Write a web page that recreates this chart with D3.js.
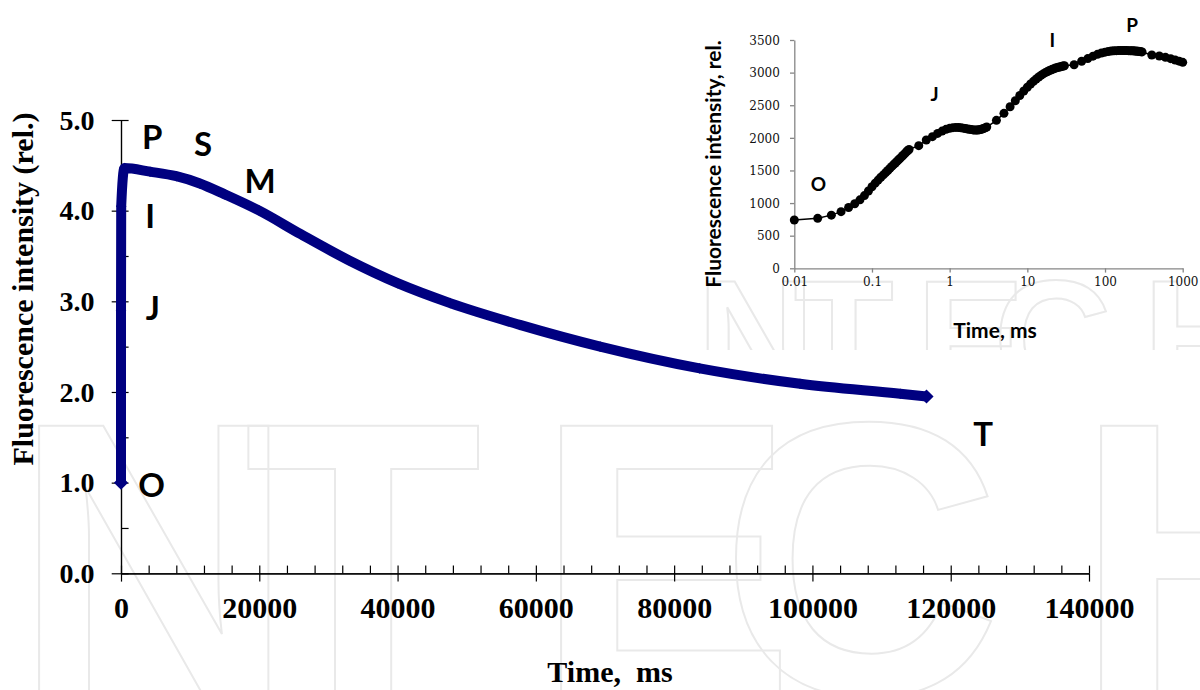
<!DOCTYPE html>
<html>
<head>
<meta charset="utf-8">
<script src="https://cdn.jsdelivr.net/npm/d3@7"></script>
<style>
  body { margin: 0; background: #fff; }
  svg { display: block; }
</style>
</head>
<body>
<svg width="1200" height="690"></svg>
<script>
// whole induction curve (O-J-I-P-S-M-T), time in ms, fluorescence relative to O
const mainTime = [0, 2, 30, 500, 4200, 8000, 11400, 15000, 20000, 26000, 33000, 40000,
                  47600, 57700, 69300, 83700, 98200, 112700, 116500];
const mainFluo = [1.00, 2.90, 4.05, 4.47, 4.43, 4.38, 4.30, 4.18, 4.00, 3.74, 3.45, 3.20,
                  2.98, 2.74, 2.50, 2.26, 2.09, 1.98, 1.95];
const mainXTicks = [0, 20000, 40000, 60000, 80000, 100000, 120000, 140000];
const mainXMinor = d3.range(0, 140001, 4000);
const mainYTicks = [0, 1, 2, 3, 4, 5];
const mainYMinor = d3.range(0, 5.01, 0.5);
const mainLetters = ["O", "J", "I", "P", "S", "M", "T"];

// fast rise (OJIP) on log time axis, ms
const ojipTime = [0.01, 0.02, 0.03, 0.04, 0.05, 0.06, 0.07, 0.08, 0.09, 0.10,
  0.11, 0.12, 0.13, 0.14, 0.15, 0.16, 0.17, 0.18, 0.19, 0.20,
  0.21, 0.22, 0.23, 0.24, 0.25, 0.26, 0.27, 0.28, 0.29, 0.30,
  0.4, 0.5, 0.6, 0.7, 0.8, 0.9, 1.0, 1.1, 1.2, 1.3, 1.4, 1.5, 1.6, 1.7, 1.8, 1.9,
  2.0, 2.1, 2.2, 2.3, 2.4, 2.5, 2.6, 2.7, 2.8, 2.9, 3.0,
  4, 5, 6, 7, 8, 9, 10, 11, 12, 13, 14, 15, 16, 17, 18, 19, 20,
  21, 22, 23, 24, 25, 26, 27, 28, 29, 30,
  40, 50, 60, 70, 80, 90, 100, 110, 120, 130, 140, 150, 160, 170, 180, 190, 200,
  210, 220, 230, 240, 250, 260, 270, 280, 290, 300,
  400, 500, 600, 700, 800, 900, 1000];
const ojipFluo = [740, 766, 815, 868, 932, 990, 1050, 1115, 1185, 1250,
  1305, 1352, 1395, 1432, 1467, 1500, 1532, 1562, 1590, 1615,
  1640, 1664, 1686, 1708, 1730, 1750, 1770, 1788, 1806, 1822,
  1880, 1967, 2018, 2068, 2104, 2130, 2146, 2156, 2160, 2158, 2154, 2148, 2142, 2136, 2131, 2126,
  2122, 2120, 2120, 2121, 2124, 2128, 2134, 2141, 2148, 2156, 2166,
  2268, 2376, 2477, 2569, 2650, 2718, 2775, 2825, 2866, 2902, 2933, 2958, 2980, 2999, 3014, 3029, 3040,
  3050, 3060, 3069, 3076, 3081, 3086, 3091, 3096, 3101, 3106,
  3120, 3175, 3215, 3252, 3280, 3300, 3314, 3324, 3330, 3334, 3337, 3338, 3339, 3339, 3339, 3338, 3337,
  3336, 3335, 3334, 3332, 3330, 3328, 3326, 3323, 3320, 3317,
  3270, 3255, 3234, 3214, 3193, 3176, 3158];
const ojipXTicks = [0.01, 0.1, 1, 10, 100, 1000];
const ojipYTicks = [0, 500, 1000, 1500, 2000, 2500, 3000, 3500];
const ojipLetters = ["O", "J", "I", "P"];

const svg = d3.select('svg');
const serif = '"Liberation Serif", "Times New Roman", serif';
const sans = 'Lato, "Open Sans", sans-serif';

// faint publisher watermark behind the charts
const wmFont = '"Liberation Sans", Arial, sans-serif';
const wm = svg.append('g')
    .attr('fill', 'none')
    .attr('stroke', '#e9e9e9')
    .attr('stroke-width', 2);
wm.append('text')
    .attr('x', '13 244 535 720 1075')
    .attr('y', 694)
    .style('font-family', wmFont).style('font-weight', 'bold').style('font-size', '390px')
    .text('NTECH');
svg.append('clipPath').attr('id', 'wmclip')
    .append('rect').attr('x', 690).attr('y', 268).attr('width', 510).attr('height', 82);
wm.append('g').attr('clip-path', 'url(#wmclip)')
  .append('g').attr('transform', 'translate(691.2,102.7) scale(0.42)')
  .append('text')
    .attr('x', '13 244 535 720 1075')
    .attr('y', 694)
    .attr('stroke-width', 2 / 0.42)
    .style('font-family', wmFont).style('font-weight', 'bold').style('font-size', '390px')
    .text('NTECH');

// ---------- main chart ----------
const x = d3.scaleLinear().domain([0, 140000]).range([121, 1089]);
const y = d3.scaleLinear().domain([0, 5]).range([573.3, 120]);

const gx = svg.append('g').attr('transform', 'translate(0,573.3)');
gx.call(d3.axisBottom(x).tickValues(mainXMinor).tickSize(-7.7).tickSizeOuter(0).tickFormat(''));
gx.append('g').call(d3.axisBottom(x).tickValues(mainXTicks).tickSize(8.3).tickSizeOuter(0)
    .tickFormat(d3.format('d')));
gx.selectAll('path.domain, line').attr('stroke', '#000').attr('stroke-width', 1.2);
gx.selectAll('text')
    .attr('y', 44.7).attr('dy', null)
    .attr('fill', '#000')
    .style('font-family', serif).style('font-weight', 'bold').style('font-size', '30px');

const gy = svg.append('g').attr('transform', 'translate(121,0)');
gy.call(d3.axisLeft(y).tickValues(mainYMinor).tickSize(-7.6).tickSizeOuter(0).tickFormat(''));
gy.append('g').call(d3.axisLeft(y).tickValues(mainYTicks).tickSize(9.3).tickSizeOuter(0)
    .tickFormat(d3.format('.1f')));
gy.selectAll('path.domain, line').attr('stroke', '#000').attr('stroke-width', 1.2);
gy.selectAll('text')
    .attr('x', -26.5).attr('dy', '0.33em')
    .attr('fill', '#000')
    .style('font-family', serif).style('font-weight', 'bold').style('font-size', '28px');

svg.append('text')
    .attr('transform', 'translate(33,289) rotate(-90)')
    .attr('text-anchor', 'middle')
    .style('font-family', serif).style('font-weight', 'bold').style('font-size', '30px')
    .text('Fluorescence intensity (rel.)');
svg.append('text')
    .attr('x', 610).attr('y', 682)
    .attr('text-anchor', 'middle')
    .attr('xml:space', 'preserve')
    .style('white-space', 'pre')
    .style('font-family', serif).style('font-weight', 'bold').style('font-size', '30px')
    .text('Time,  ms');

const mainPts = mainTime.map((t, i) => [t, mainFluo[i]]);
const navy = '#000080';
svg.append('path')
    .datum(mainPts)
    .attr('fill', 'none')
    .attr('stroke', navy)
    .attr('stroke-width', 10)
    .attr('stroke-linejoin', 'miter')
    .attr('d', d3.line().x(d => x(d[0])).y(d => y(d[1])).curve(d3.curveMonotoneX));
const lastMain = mainPts.length - 1;
svg.append('g').selectAll('path').data(mainPts).enter().append('path')
    .attr('d', (d, i) => d3.symbol().type(d3.symbolSquare)
      .size(i === 0 || i === lastMain ? 100 : 56)())
    .attr('transform', d => `translate(${x(d[0])},${y(d[1])}) rotate(45)`)
    .attr('fill', navy);

// phase letters, placed in data units of the main chart
const mainLetterPos = {
  O: [4440, 0.97], J: [4620, 2.92], I: [4200, 3.94], P: [4530, 4.81],
  S: [11870, 4.73], M: [20120, 4.33], T: [124700, 1.53]
};
svg.append('g').selectAll('text').data(mainLetters).enter().append('text')
    .attr('x', d => x(mainLetterPos[d][0]))
    .attr('y', d => y(mainLetterPos[d][1]))
    .attr('dy', '0.36em')
    .attr('text-anchor', 'middle')
    .style('font-family', sans).style('font-weight', 'bold').style('font-size', '33px')
    .text(d => d);

// ---------- inset (log time) ----------
const ix = d3.scaleLog().domain([0.01, 1000]).range([794.3, 1182.7]);
const iy = d3.scaleLinear().domain([0, 3500]).range([268.3, 40]);
const axisGrey = '#868686';

const igx = svg.append('g').attr('transform', 'translate(0,268.3)')
    .call(d3.axisBottom(ix).tickValues(ojipXTicks).tickSize(4.3).tickSizeOuter(0)
      .tickFormat(d => d < 1 ? String(d) : d3.format('d')(d)));
igx.selectAll('path.domain, line').attr('stroke', axisGrey).attr('stroke-width', 1.3);
igx.selectAll('text').attr('y', 17.5).attr('dy', null).attr('fill', '#111')
    .style('font-family', '"DejaVu Serif", serif').style('font-size', '12px');

const igy = svg.append('g').attr('transform', 'translate(794.3,0)')
    .call(d3.axisLeft(iy).tickValues(ojipYTicks).tickSize(4.3).tickSizeOuter(0)
      .tickFormat(d3.format('d')));
igy.selectAll('path.domain, line').attr('stroke', axisGrey).attr('stroke-width', 1.3);
igy.selectAll('text').attr('x', -14.5).attr('dy', '0.35em').attr('fill', '#111')
    .style('font-family', '"DejaVu Serif", serif').style('font-size', '12px');

svg.append('text')
    .attr('x', 995).attr('y', 337.5)
    .attr('text-anchor', 'middle')
    .style('font-family', sans).style('font-weight', 'bold').style('font-size', '21px')
    .text('Time, ms');
svg.append('text')
    .attr('transform', 'translate(721,164) rotate(-90)')
    .attr('text-anchor', 'middle')
    .style('font-family', sans).style('font-weight', 'bold').style('font-size', '21px')
    .text('Fluorescence intensity, rel.');

const ojipPts = ojipTime.map((t, i) => [t, ojipFluo[i]]);
svg.append('path')
    .datum(ojipPts)
    .attr('fill', 'none')
    .attr('stroke', '#000')
    .attr('stroke-width', 1.5)
    .attr('d', d3.line().x(d => ix(d[0])).y(d => iy(d[1])));
svg.append('g').selectAll('circle').data(ojipPts).enter().append('circle')
    .attr('cx', d => ix(d[0]))
    .attr('cy', d => iy(d[1]))
    .attr('r', 4.5)
    .attr('fill', '#000');

const ojipLetterPos = {
  O: [0.0205, 1290], J: [0.64, 2670], I: [21, 3500], P: [224, 3730]
};
svg.append('g').selectAll('text').data(ojipLetters).enter().append('text')
    .attr('x', d => ix(ojipLetterPos[d][0]))
    .attr('y', d => iy(ojipLetterPos[d][1]))
    .attr('dy', '0.36em')
    .attr('text-anchor', 'middle')
    .style('font-family', sans).style('font-weight', 'bold').style('font-size', '19px')
    .text(d => d);
</script>
</body>
</html>
